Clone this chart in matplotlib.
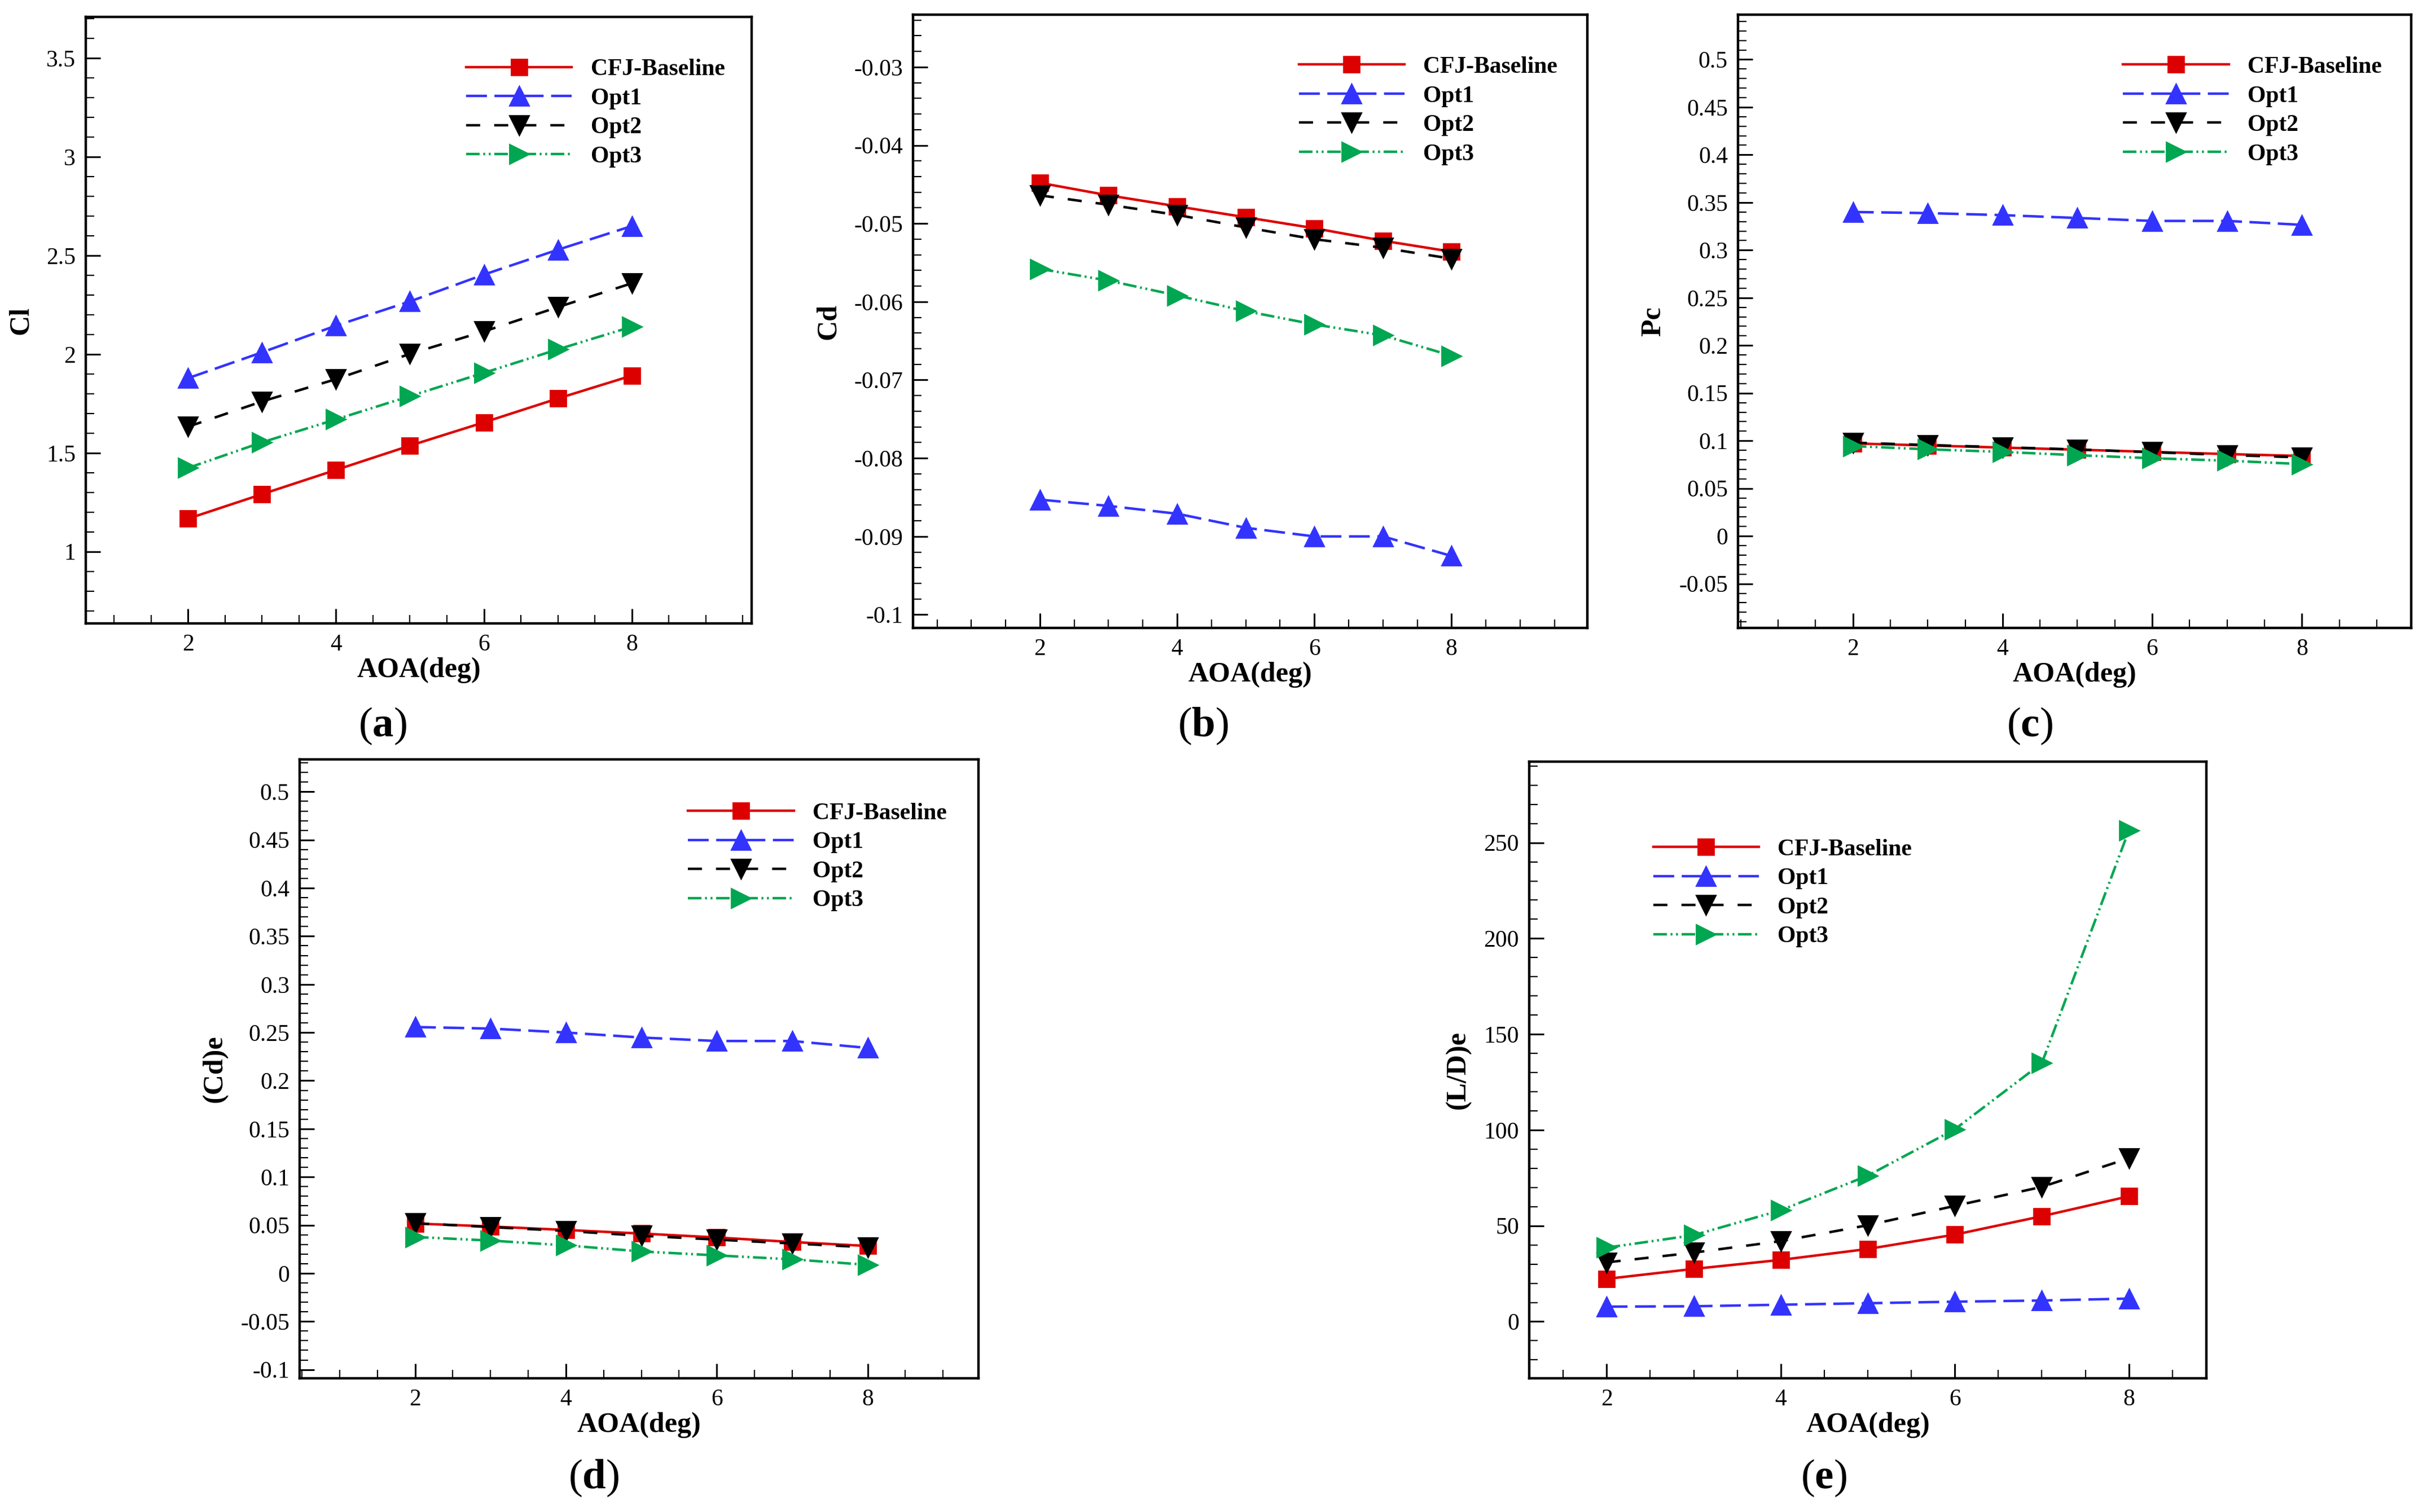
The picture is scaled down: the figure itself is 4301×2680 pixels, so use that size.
import numpy as np
import matplotlib
matplotlib.use('Agg')
import matplotlib.pyplot as plt
from matplotlib.ticker import MultipleLocator, FuncFormatter

plt.rcParams['font.family'] = ['Liberation Serif', 'DejaVu Serif']
plt.rcParams['axes.unicode_minus'] = False
plt.rcParams['mathtext.fontset'] = 'custom'
plt.rcParams['mathtext.rm'] = 'Liberation Serif'
plt.rcParams['mathtext.bf'] = 'Liberation Serif:bold'

# angle of attack
aoa = [2, 3, 4, 5, 6, 7, 8]
series_names = ['CFJ-Baseline', 'Opt1', 'Opt2', 'Opt3']

# (a) lift coefficient
cl_base = [1.167, 1.291, 1.414, 1.537, 1.655, 1.776, 1.892]
cl_opt1 = [1.879, 2.010, 2.145, 2.268, 2.404, 2.530, 2.650]
cl_opt2 = [1.633, 1.761, 1.874, 2.002, 2.116, 2.239, 2.360]
cl_opt3 = [1.424, 1.554, 1.670, 1.788, 1.906, 2.025, 2.140]

# (b) drag coefficient
cd_base = [-0.0448, -0.0464, -0.0478, -0.0492, -0.0506, -0.0522, -0.0536]
cd_opt1 = [-0.0853, -0.0861, -0.0871, -0.0889, -0.0900, -0.0900, -0.0925]
cd_opt2 = [-0.0464, -0.0476, -0.0489, -0.0505, -0.0520, -0.0531, -0.0545]
cd_opt3 = [-0.0558, -0.0573, -0.0592, -0.0612, -0.0629, -0.0643, -0.0669]

# (c) power coefficient
pc_base = [0.0972, 0.0950, 0.0928, 0.0906, 0.0883, 0.0860, 0.0840]
pc_opt1 = [0.3400, 0.3388, 0.3367, 0.3337, 0.3306, 0.3306, 0.3265]
pc_opt2 = [0.0980, 0.0955, 0.0932, 0.0908, 0.0880, 0.0850, 0.0825]
pc_opt3 = [0.0944, 0.0910, 0.0883, 0.0848, 0.0816, 0.0791, 0.0755]

# (d) equivalent drag coefficient
cde_base = [0.0517, 0.0486, 0.0450, 0.0413, 0.0372, 0.0325, 0.0284]
cde_opt1 = [0.2557, 0.2541, 0.2500, 0.2448, 0.2412, 0.2412, 0.2340]
cde_opt2 = [0.0520, 0.0480, 0.0440, 0.0390, 0.0350, 0.0310, 0.0270]
cde_opt3 = [0.0377, 0.0340, 0.0290, 0.0227, 0.0186, 0.0145, 0.0088]

# (e) equivalent lift to drag ratio
lde_base = [22.3, 27.5, 32.2, 37.9, 45.4, 55.0, 65.4]
lde_opt1 = [7.8, 8.0, 8.8, 9.6, 10.4, 11.0, 12.0]
lde_opt2 = [30.9, 36.0, 42.0, 50.3, 60.4, 70.3, 85.3]
lde_opt3 = [38.6, 45.1, 58.1, 76.2, 100.4, 134.9, 256.5]

# line styles (dashes are in linewidth units)
styles = [
    dict(color='#dd0000', marker='s', ms=10, linestyle='-'),
    dict(color='#3333ff', marker='^', ms=12, dashes=(8.3, 3.0)),
    dict(color='black', marker='v', ms=12, dashes=(5.6, 5.6)),
    dict(color='#00a651', marker='>', ms=12, dashes=(5.4, 1.45, 0.75, 1.45, 0.75, 1.45)),
]


def fmt(v, pos):
    return '%g' % round(v, 6)


def draw(rect, data, ylabel, xlim, ylim, ymaj, ymin, leg_xy, tag, tag_xy):
    ax = fig.add_axes(rect)
    for vals, name, st in zip(data, series_names, styles):
        ax.plot(aoa, vals, label=name, lw=1.6, mec=st['color'], mfc=st['color'], **st)
    ax.set_xlim(*xlim)
    ax.set_ylim(*ylim)
    ax.xaxis.set_major_locator(MultipleLocator(2))
    ax.xaxis.set_minor_locator(MultipleLocator(0.5))
    ax.yaxis.set_major_locator(MultipleLocator(ymaj))
    ax.yaxis.set_minor_locator(MultipleLocator(ymin))
    ax.yaxis.set_major_formatter(FuncFormatter(fmt))
    ax.tick_params(which='both', direction='in', top=False, right=False, labelsize=15)
    ax.tick_params(which='major', length=9.5, width=1.1, pad=6.5)
    ax.tick_params(which='minor', length=5.5, width=0.8)
    for sp in ax.spines.values():
        sp.set_linewidth(1.6)
    ax.set_xlabel('AOA(deg)', fontsize=18, fontweight='bold', labelpad=1)
    ax.set_ylabel(ylabel, fontsize=18, fontweight='bold', labelpad=8)
    ax.legend(loc='upper left', bbox_to_anchor=leg_xy, frameon=False,
              prop={'weight': 'bold', 'size': 15}, handlelength=4.5, handletextpad=0.8,
              labelspacing=0.32, borderpad=0, borderaxespad=0, numpoints=1)
    fig.text(tag_xy[0], tag_xy[1], r'$\mathrm{(}\mathbf{%s}\mathrm{)}$' % tag,
             fontsize=27, ha='center', va='center')
    return ax


fig = plt.figure(figsize=(21.505, 13.4), dpi=200)

W, H = 4301.0, 2680.0


def rect(x0, x1, y0, y1):
    return [x0 / W, 1 - y1 / H, (x1 - x0) / W, (y1 - y0) / H]


draw(rect(152, 1332, 30, 1105), [cl_base, cl_opt1, cl_opt2, cl_opt3], 'Cl',
     (0.617, 9.62), (0.636, 3.71), 0.5, 0.1, (0.571, 0.931), 'a', (678 / W, 1 - 1287 / H))
draw(rect(1618, 2813, 26, 1113), [cd_base, cd_opt1, cd_opt2, cd_opt3], 'Cd',
     (0.15, 9.98), (-0.1017, -0.0233), 0.01, 0.002, (0.572, 0.932), 'b', (2132 / W, 1 - 1287 / H))
draw(rect(3080, 4273, 26, 1113), [pc_base, pc_opt1, pc_opt2, pc_opt3], 'Pc',
     (0.465, 9.46), (-0.0964, 0.547), 0.05, 0.01, (0.572, 0.932), 'c', (3597 / W, 1 - 1287 / H))
draw(rect(531, 1734, 1346, 2443), [cde_base, cde_opt1, cde_opt2, cde_opt3], '(Cd)e',
     (0.47, 9.47), (-0.109, 0.5336), 0.05, 0.01, (0.572, 0.930), 'd', (1052 / W, 1 - 2620 / H))
draw(rect(2710, 3910, 1350, 2443), [lde_base, lde_opt1, lde_opt2, lde_opt3], '(L/D)e',
     (1.11, 8.89), (-29.6, 292.3), 50, 10, (0.183, 0.875), 'e', (3232 / W, 1 - 2620 / H))

fig.savefig('out.png', dpi=200)
